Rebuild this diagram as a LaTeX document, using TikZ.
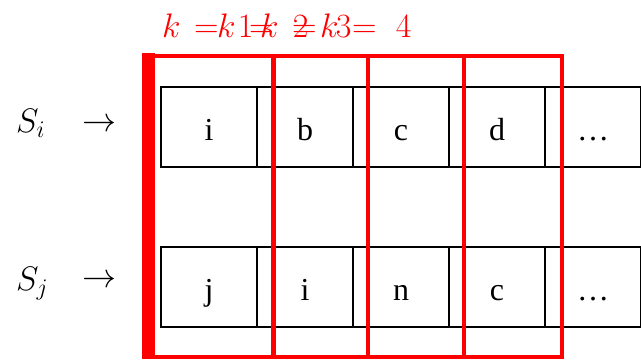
\documentclass[tikz,border=0pt]{standalone}
\usepackage{fix-cm}
\usepackage{fontspec}
\setmainfont{Liberation Serif}
\usepackage{tikz}
\usetikzlibrary{positioning}

\begin{document}
\begin{tikzpicture}[x=1pt, y=-1pt,
  cell/.style={draw, line width=1.5pt, minimum width=96pt, minimum height=80pt,
    inner sep=0pt, outer sep=0pt, text height=30pt, text depth=3pt,
    font=\fontsize{32}{38}\selectfont},
  frame/.style={draw=red, line width=4pt},
  klabel/.style={red, anchor=base west, inner sep=0pt, font=\fontsize{34}{40}\selectfont},
  rowlabel/.style={anchor=base west, inner sep=0pt, font=\fontsize{34}{40}\selectfont}]
\useasboundingbox (0,0) rectangle (641,360);
\clip (0,0) rectangle (641,360);
% --- riga S_i ---
\node[cell] (ci1) at (209,127) {i};
\node[cell, right=0pt of ci1] (ci2) {b};
\node[cell, right=0pt of ci2] (ci3) {c};
\node[cell, right=0pt of ci3] (ci4) {d};
\node[cell, right=0pt of ci4] (ci5) {\dots};
% --- riga S_j ---
\node[cell] (cj1) at (209,287) {j};
\node[cell, right=0pt of cj1] (cj2) {i};
\node[cell, right=0pt of cj2] (cj3) {n};
\node[cell, right=0pt of cj3] (cj4) {c};
\node[cell, right=0pt of cj4] (cj5) {\dots};
% --- etichette delle stringhe ---
\node[rowlabel] (si) at (16,132) {$S_i$};
\node[rowlabel] (ai) at (82,131) {$\rightarrow$};
\node[rowlabel] (sj) at (16,290) {$S_j$};
\node[rowlabel] (aj) at (82,287) {$\rightarrow$};
% --- finestre k ---
\fill[red] (142,53) rectangle (155,359);
\draw[frame] (144,56) rectangle (273,357);
\draw[frame] (274,56) rectangle (368,357);
\draw[frame] (368,56) rectangle (464,357);
\draw[frame] (464,56) rectangle (562,357);
\node[klabel] (k1) at (162,37) {$k\hspace{4pt} = \hspace{10pt}1$};
\node[klabel] (k2) at (217,37) {$k\hspace{4pt} = \hspace{10pt}2$};
\node[klabel] (k3) at (260,37) {$k\hspace{4pt} = \hspace{10pt}3$};
\node[klabel] (k4) at (320,37) {$k\hspace{4pt} = \hspace{10pt}4$};
\end{tikzpicture}
\end{document}
